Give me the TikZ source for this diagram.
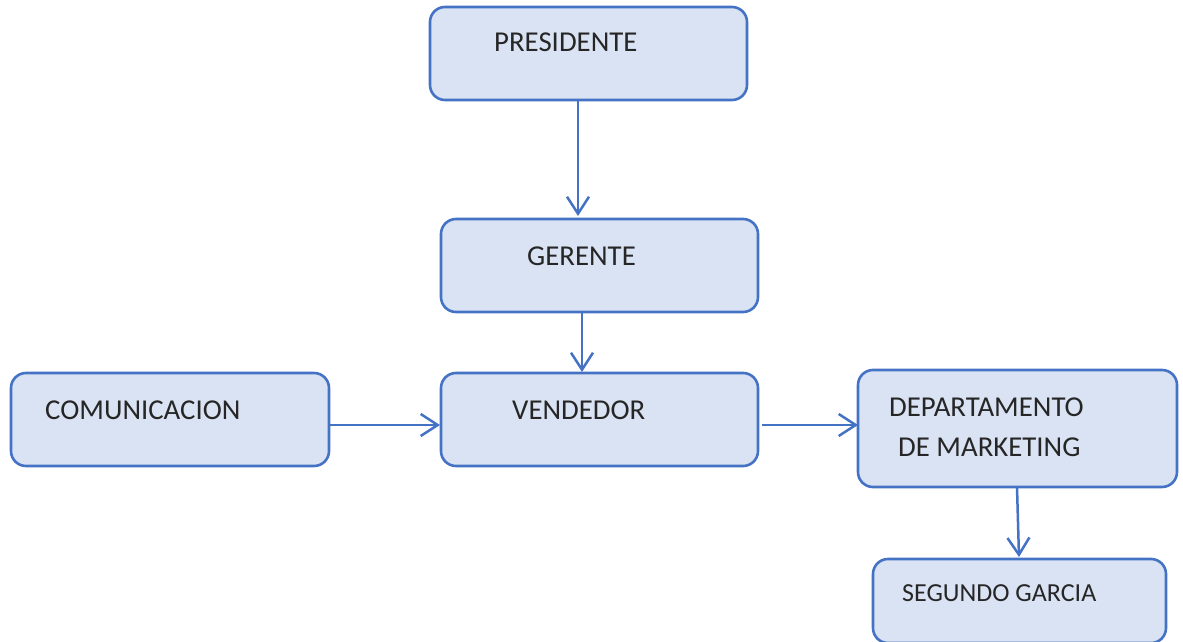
\documentclass[tikz,border=0pt]{standalone}
\usepackage{fontspec}
\setmainfont{Carlito}
\usetikzlibrary{arrows.meta}
\definecolor{boxline}{HTML}{4472C4}
\definecolor{boxfill}{HTML}{DAE3F3}
\tikzset{
  orgbox/.style={draw=boxline, fill=boxfill, line width=2.6pt, rounded corners=15pt, inner sep=0pt},
  orgtext/.style={anchor=base west, inner sep=0pt, text=black!85, font=\fontsize{28.8}{31}\selectfont},
  smalltext/.style={orgtext, font=\fontsize{26}{28}\selectfont},
  link/.style={draw=boxline, line width=2.5pt, -{Straight Barb[length=17pt,width=22pt,line width=2.5pt]}}
}
\newcommand{\orgnode}[5]{% name, x0, y0, x1, y1
  \node[orgbox, minimum width=#4pt-#2pt, minimum height=#5pt-#3pt] (#1) at ({(#2+#4)/2}, {(#3+#5)/2}) {};}
\begin{document}
\begin{tikzpicture}[x=1pt, y=-1pt]
  \useasboundingbox (0,0) rectangle (1183,642);
  % boxes
  \orgnode{pres}{430}{7}{747}{100}
  \orgnode{ger}{441}{219}{758}{312}
  \orgnode{com}{11}{373}{329}{466}
  \orgnode{ven}{441}{373}{758}{466}
  \orgnode{dep}{858}{370}{1177}{487}
  \orgnode{seg}{873}{559}{1166}{643}
  % labels
  \node[orgtext] (tpres) at (494,52) {PRESIDENTE};
  \node[orgtext] (tger) at (527,265) {GERENTE};
  \node[orgtext] (tcom) at (45,419) {COMUNICACION};
  \node[orgtext] (tven) at (512,419) {VENDEDOR};
  \node[orgtext] (tdep1) at (889,416) {DEPARTAMENTO};
  \node[orgtext] (tdep2) at (898,456) {DE MARKETING};
  \node[smalltext] (tseg) at (902,601) {SEGUNDO GARCIA};
  % connectors
  \draw[link] (pres.south -| 578,0) -- (578,216);
  \draw[link] (ger.south -| 582,0) -- (582,372);
  \draw[link] (com.east |- 0,425) -- (440,425);
  \draw[link] (ven.east |- 0,425) ++(3,0) -- (858,425);
  \draw[link] (1017,487) -- (1019,557);
\end{tikzpicture}
\end{document}
